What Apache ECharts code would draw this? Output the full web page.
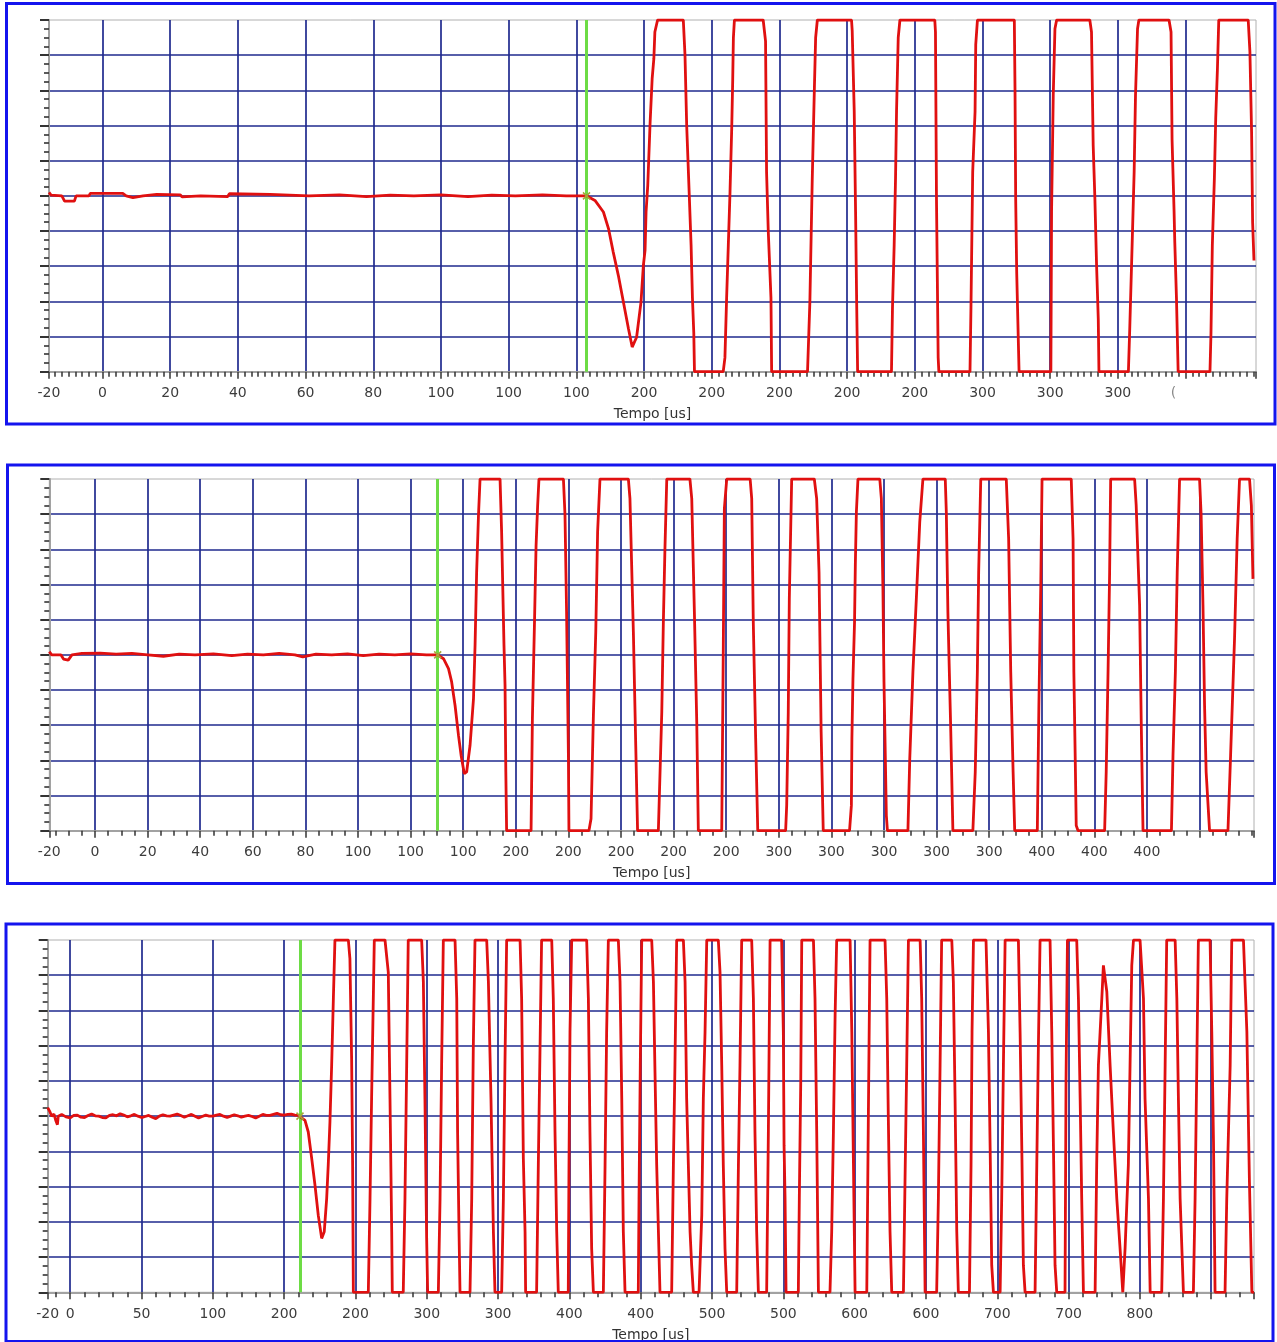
<!DOCTYPE html>
<html>
<head>
<meta charset="utf-8">
<title>Tempo [us]</title>
<script src="https://cdn.jsdelivr.net/npm/echarts@6/dist/echarts.min.js"></script>
<style>
  html, body { margin: 0; padding: 0; background: #ffffff; }
  #chart { width: 1277px; height: 1342px; }
</style>
</head>
<body>
<div id="chart"></div>
<script>
// ---- acquisition windows (us) ----
const range1 = [-15.8, 340.8];
const range2 = [-17.4, 440.7];
const range3 = [-15.8, 830.0];

// ---- trigger instants (us) ----
const trigger1 = 143.0;
const trigger2 = 130.3;
const trigger3 = 161.1;

// ---- major ticks / vertical grid (us) ----
const ticks1 = [0, 20, 40, 60, 80, 100, 120, 140, 160, 180, 200, 220, 240, 260, 280, 300, 320];
const ticks2 = [0, 20, 40, 60, 80, 100, 120, 140, 160, 180, 200, 220, 240, 260, 280, 300, 320, 340, 360, 380, 400, 420];
const ticks3 = [0, 50, 100, 150, 200, 250, 300, 350, 400, 450, 500, 550, 600, 650, 700, 750, 800];

// ---- tick label texts (first one sits at the start of the window) ----
const labels1 = ['-20', '0', '20', '40', '60', '80', '100', '100', '100', '200', '200', '200', '200', '200', '300', '300', '300', '('];
const labels2 = ['-20', '0', '20', '40', '60', '80', '100', '100', '100', '200', '200', '200', '200', '200', '300', '300', '300', '300', '300', '400', '400', '400'];
const labels3 = ['-20', '0', '50', '100', '200', '200', '300', '300', '400', '400', '500', '500', '600', '600', '700', '700', '800'];

// ---- minor tick spacing (us) ----
const minorStep1 = 2;
const minorStep2 = 5;
const minorStep3 = 10;

// ---- recorded signal, [time us, level] ----
const trace1 = [
  [-15.8, 0.1], [-15.2, 0.02], [-12, 0.0], [-11.2, -0.15], [-8.3, -0.15], [-7.8, 0.0], [-4, 0.0], [-3.6, 0.07],
  [6, 0.07], [7, 0.0], [9, -0.05], [12, 0.0], [16, 0.04], [23, 0.03], [23.5, -0.03], [29, 0.0], [37, -0.02],
  [37.5, 0.06], [49.5, 0.04], [50, -0.01], [61, 0.0], [70, 0.03], [78, -0.02], [85, 0.02], [92, 0.0], [100, 0.03],
  [108, -0.02], [115, 0.02], [122, 0.0], [130, 0.03], [137, 0.0],
  [143.0, 0.0], [145.5, -0.13], [148.0, -0.46], [149.5, -0.93], [150.9, -1.6], [152.4, -2.26], [153.9, -3.02],
  [155.4, -3.78], [156.5, -4.3], [157.8, -4.02], [159.1, -3.02], [159.8, -1.98], [160.3, -1.55], [160.6, -0.46],
  [161.1, 0.3], [161.8, 2.1], [162.4, 3.33], [162.9, 3.9], [163.2, 4.66], [164.0, 5],
  [171.6, 5], [172.1, 4.0], [172.6, 2.0], [173.4, -0.08], [173.9, -1.4], [174.3, -2.9], [174.7, -3.9], [174.9, -5],
  [183.4, -5], [183.9, -4.6], [184.4, -2.9], [184.9, -1.4], [185.4, 0.1], [185.9, 1.9], [186.2, 3.3], [186.4, 4.5], [186.7, 5],
  [195.2, 5], [195.9, 4.4], [196.2, 0.68], [196.7, -1.0], [197.5, -2.9], [197.7, -5],
  [208.3, -5], [209.0, -3.0], [209.7, 0.49], [210.3, 2.95], [210.7, 4.5], [211.2, 5],
  [221.3, 5], [221.5, 4.7], [222.1, 2.4], [222.5, -0.46], [222.8, -2.9], [223.1, -5],
  [233.1, -5], [233.4, -3.2], [233.9, -1.4], [234.3, 0.49], [234.6, 2.4], [235.1, 4.5], [235.6, 5],
  [245.9, 5], [246.1, 4.66], [246.4, -0.08], [246.9, -4.6], [247.1, -5],
  [256.3, -5], [256.6, -3.1], [257.1, 0.68], [257.8, 2.4], [258.0, 4.3], [258.5, 5],
  [269.4, 5], [269.6, 3.05], [269.8, -0.08], [270.1, -2.17], [270.8, -5],
  [280.2, -5], [280.4, -0.46], [280.9, 2.86], [281.4, 4.75], [281.9, 5],
  [291.7, 5], [292.2, 4.66], [292.7, 1.43], [293.2, -0.08], [293.7, -1.98], [294.2, -3.5], [294.4, -5],
  [303.1, -5], [303.5, -3.78], [304.2, -1.4], [304.8, 0.68], [305.2, 2.86], [305.8, 4.75], [306.2, 5],
  [315.1, 5], [315.7, 4.66], [316.0, 1.6], [316.6, -0.46], [316.8, -1.3], [317.3, -2.9], [317.8, -5],
  [327.2, -5], [327.5, -3.9], [327.9, -1.4], [328.5, 0.49], [328.9, 2.2], [329.4, 3.6], [329.8, 5],
  [338.5, 5], [339.0, 4.1], [339.5, 1.8], [339.8, -0.75], [340.2, -1.84]
];

const trace2 = [
  [-17.4, 0.09], [-16.5, 0.0], [-13, 0.0], [-12, -0.12], [-10.2, -0.15], [-8.8, 0.0], [-5, 0.04], [2, 0.05],
  [8, 0.02], [14, 0.04], [20, 0.0], [26, -0.04], [32, 0.02], [38, 0.0], [45, 0.03], [52, -0.02], [58, 0.02],
  [64, 0.0], [70, 0.04], [76, 0.0], [79, -0.06], [84, 0.02], [90, 0.0], [96, 0.03], [102, -0.02], [108, 0.02],
  [114, 0.0], [120, 0.03], [126, 0.0],
  [130.3, 0.0], [132.5, -0.11], [134.4, -0.39], [135.6, -0.77], [136.9, -1.44], [138.2, -2.29], [139.2, -2.86],
  [140.4, -3.38], [141.3, -3.33], [142.6, -2.57], [143.9, -1.25], [144.5, 0.27], [145.1, 2.35], [145.8, 3.97], [146.4, 5],
  [154.0, 5], [154.6, 3.49], [155.5, 0.27], [155.9, -0.87], [156.2, -3.33], [156.5, -5],
  [165.8, -5], [166.3, -1.82], [167.1, 0.93], [167.7, 3.11], [168.3, 4.25], [168.8, 5],
  [178.1, 5], [178.7, 3.97], [179.3, 1.22], [180.0, -2.86], [180.2, -5],
  [187.8, -5], [188.6, -4.66], [189.5, -1.72], [190.4, 0.65], [191.1, 3.49], [192.0, 5],
  [202.8, 5], [203.4, 4.44], [204.7, 0.65], [205.6, -2.57], [206.3, -5],
  [214.2, -5], [215.5, -1.63], [216.1, 0.93], [216.7, 3.0], [217.4, 5],
  [226.2, 5], [226.9, 4.44], [227.9, 1.22], [228.8, -1.91], [229.4, -5],
  [238.3, -5], [238.9, 0.27], [239.3, 4.16], [240.2, 5],
  [249.1, 5], [249.7, 4.44], [250.3, 0.93], [251.2, -2.38], [252.0, -5],
  [262.6, -5], [263.0, -4.28], [263.6, -1.63], [264.0, 1.6], [264.9, 5],
  [273.5, 5], [274.4, 4.44], [275.3, 2.35], [276.1, -2.19], [276.9, -5],
  [286.9, -5], [287.6, -4.28], [287.8, -2.38], [288.2, -0.68], [288.8, 0.93], [289.1, 2.54], [289.5, 4.06], [290.1, 5],
  [298.4, 5], [299.0, 4.44], [299.6, 1.88], [300.0, -0.77], [300.9, -4.57], [301.3, -5],
  [309.1, -5], [309.8, -2.95], [311.0, -0.49], [312.3, 1.6], [313.6, 3.78], [314.8, 5],
  [323.3, 5], [323.7, 4.06], [324.3, 1.22], [325.4, -2.19], [326.2, -5],
  [333.8, -5], [334.7, -3.33], [335.5, -0.49], [336.0, 2.35], [336.8, 5],
  [346.5, 5], [347.4, 3.3], [348.2, -0.49], [349.1, -3.33], [349.7, -5],
  [358.3, -5], [358.9, -1.44], [359.6, 1.88], [360.1, 5],
  [371.2, 5], [371.9, 3.3], [372.2, -0.49], [372.8, -3.33], [373.1, -4.85], [373.8, -5],
  [383.9, -5], [384.5, -3.33], [385.2, -0.49], [385.8, 2.35], [386.2, 5],
  [395.3, 5], [395.9, 4.25], [397.2, 1.41], [397.8, -1.82], [398.5, -5],
  [409.3, -5], [409.9, -2.86], [410.8, -0.49], [411.5, 2.35], [412.4, 5],
  [420.0, 5], [420.6, 3.97], [421.3, 1.41], [421.9, -1.44], [422.5, -3.33], [423.8, -5],
  [430.8, -5], [431.8, -2.86], [433.3, 0.46], [434.3, 3.3], [435.2, 5],
  [439.0, 5], [439.7, 4.25], [440.3, 2.16]
];

const trace3 = [
  [-15.8, 0.24], [-14.2, 0.12], [-13.0, 0.0], [-11.4, 0.06], [-10.0, -0.14], [-9.0, -0.24], [-8.4, 0.0], [-6, 0.05],
  [-3, -0.02], [0, -0.05], [2.5, 0.02], [5, 0.03], [7.5, -0.03], [10, -0.04], [12.5, 0.02], [15, 0.06], [17.5, 0.01],
  [20, 0.0], [22.5, -0.04], [25, -0.05], [27.5, 0.02], [30, 0.04], [32.5, 0.01], [35, 0.07], [37.5, 0.03], [40, -0.02],
  [42.5, 0.01], [45, 0.05], [47.5, 0.0], [50, -0.04], [52.5, -0.01], [55, 0.02], [57.5, -0.03], [60, -0.07],
  [62.5, 0.0], [65, 0.04], [67.5, 0.01], [70, 0.0], [72.5, 0.03], [75, 0.06], [77.5, 0.02], [80, -0.03], [82.5, 0.01],
  [85, 0.05], [87.5, 0.0], [90, -0.05], [92.5, -0.01], [95, 0.03], [97.5, 0.0], [100, 0.0], [102.5, 0.03], [105, 0.05],
  [107.5, 0.0], [110, -0.04], [112.5, 0.0], [115, 0.04], [117.5, 0.01], [120, -0.03], [122.5, 0.0], [125, 0.02],
  [127.5, -0.01], [130, -0.05], [132.5, 0.0], [135, 0.05], [137.5, 0.02], [140, 0.02], [142.5, 0.05], [145, 0.08],
  [147.5, 0.04], [150, 0.03], [152.5, 0.05], [155, 0.06], [157.5, 0.03], [160, 0.02],
  [161.1, 0.0], [164.6, -0.12], [166.9, -0.45], [169.3, -1.2], [171.6, -1.96], [173.9, -2.81], [176.3, -3.47],
  [178.1, -3.28], [179.8, -2.34], [180.9, -1.39], [182.1, -0.16], [183.3, 1.45], [184.5, 3.34], [185.6, 5],
  [195.0, 5], [196.1, 4.47], [197.3, 1.63], [198.0, -1.39], [198.5, -5],
  [209.0, -5], [210.2, -2.34], [211.3, 0.5], [212.5, 3.34], [213.2, 5],
  [220.7, 5], [223.0, 4.09], [224.2, 0.5], [225.4, -3.28], [225.8, -5],
  [233.5, -5], [234.7, -2.34], [235.9, 1.45], [237.0, 5],
  [246.4, 5], [247.6, 3.81], [248.7, 0.5], [249.9, -3.47], [250.6, -5],
  [258.1, -5], [259.3, -2.34], [260.4, 1.45], [261.6, 5],
  [269.8, 5], [271.0, 3.34], [271.6, -0.45], [272.6, -3.28], [273.3, -5],
  [280.3, -5], [281.5, -2.34], [282.6, 1.92], [283.8, 5],
  [292.0, 5], [293.2, 3.81], [295.0, 0.5], [296.7, -3.28], [297.8, -5],
  [302.5, -5], [303.7, -2.34], [304.8, 1.45], [306.0, 5],
  [315.4, 5], [316.5, 3.34], [317.7, -1.2], [318.9, -3.28], [319.3, -5],
  [327.0, -5], [328.2, -1.39], [329.4, 1.92], [330.5, 5],
  [337.6, 5], [338.7, 3.34], [339.9, -0.45], [341.1, -3.28], [342.2, -5],
  [349.2, -5], [349.7, -1.39], [350.4, 2.39], [351.6, 5],
  [362.1, 5], [363.3, 3.34], [364.4, -0.45], [365.6, -3.76], [366.8, -5],
  [373.8, -5], [375.0, -1.39], [376.1, 2.39], [377.3, 5],
  [384.3, 5], [385.5, 3.81], [386.7, 0.5], [387.8, -3.28], [389.0, -5],
  [398.3, -5], [398.8, -2.34], [399.7, 1.45], [400.7, 5],
  [407.7, 5], [408.9, 3.81], [410.0, 1.26], [411.2, -1.39], [413.5, -5],
  [421.7, -5], [422.9, -1.39], [424.0, 1.45], [425.2, 5],
  [429.9, 5], [431.1, 3.81], [432.2, 0.5], [434.6, -3.28], [435.7, -4.23], [436.9, -5],
  [440.9, -5], [442.8, -2.81], [443.9, 0.5], [445.1, 2.39], [446.3, 5],
  [454.4, 5], [455.6, 4.09], [456.8, 1.45], [457.9, -1.39], [459.1, -3.76], [460.3, -5],
  [467.3, -5], [468.5, -1.39], [469.6, 1.45], [470.8, 5],
  [477.8, 5], [479.0, 3.34], [480.1, -0.45], [481.3, -3.28], [482.5, -5],
  [488.3, -5], [489.5, -0.45], [490.7, 5],
  [498.8, 5], [500.0, 2.39], [500.5, -0.83], [501.2, -2.34], [501.9, -5],
  [510.5, -5], [511.2, -2.34], [512.2, 0.97], [512.9, 5],
  [521.1, 5], [522.2, 3.34], [523.4, -0.45], [524.6, -5],
  [532.7, -5], [533.9, -3.28], [535.1, -0.45], [536.3, 2.87], [537.4, 5],
  [546.8, 5], [548.0, 2.39], [549.1, -1.2], [550.3, -5],
  [558.5, -5], [559.6, -0.03], [560.8, 5],
  [571.3, 5], [572.5, 3.34], [573.6, -0.03], [574.8, -3.28], [576.0, -5],
  [584.2, -5], [585.3, -1.87], [586.5, 1.45], [587.7, 5],
  [595.9, 5], [597.0, 3.34], [598.2, -0.45], [599.4, -5],
  [607.5, -5], [608.7, -2.34], [609.9, 1.45], [611.0, 5],
  [618.1, 5], [619.2, 3.81], [620.4, 0.5], [621.6, -3.28], [622.7, -5],
  [630.5, -5], [631.6, -1.39], [632.3, 2.39], [633.3, 5],
  [642.1, 5], [643.8, 2.39], [645.0, -0.92], [646.1, -4.23], [647.3, -5],
  [652.0, -5], [653.1, -2.34], [654.3, 1.45], [655.5, 5],
  [664.8, 5], [666.0, 2.39], [667.2, -0.92], [668.3, -4.23], [669.5, -5],
  [676.5, -5], [677.7, -1.39], [678.8, 1.92], [680.0, 5],
  [687.0, 5], [688.2, 2.39], [689.4, -0.92], [690.5, -4.23], [691.7, -5],
  [697.5, -5], [698.2, 0.97], [699.2, 5],
  [705.7, 5], [706.9, 3.34], [708.1, 0.5], [709.2, -2.34], [710.4, -5],
  [718.6, -5], [719.7, -1.39], [720.9, 1.45], [722.1, 2.39], [723.3, 3.34], [724.4, 4.28], [725.1, 4.28],
  [726.8, 3.53], [729.1, 1.45], [731.4, -0.45], [733.8, -2.34], [736.1, -3.76], [738.0, -5],
  [739.6, -3.76], [741.9, -1.39], [743.1, 1.45], [744.3, 4.28], [745.5, 5],
  [750.1, 5], [752.5, 3.34], [753.6, 0.5], [756.0, -2.34], [757.2, -5],
  [765.3, -5], [766.5, -2.34], [767.7, 1.45], [768.8, 5],
  [774.7, 5], [775.9, 3.34], [777.0, 0.5], [778.2, -2.34], [780.5, -5],
  [787.5, -5], [788.7, -2.34], [789.9, 1.45], [791.0, 5],
  [799.2, 5], [800.4, 2.39], [801.6, -0.73], [802.7, -5],
  [809.7, -5], [810.9, -2.34], [813.3, 1.45], [814.4, 5],
  [822.6, 5], [825.0, 2.39], [826.8, -1.87], [828.5, -5],
  [830.0, -5]
];

// ---- styling ----
const FONT = 'DejaVu Sans';
const GRID_BLUE = '#1f2a8e';
const TRACE_RED = '#e01010';
const TRIGGER_GREEN = '#6ddc45';
const FRAME_BLUE = '#1414ee';
const AXIS_GREY = '#a2a2a2';
const TICK_DARK = '#333333';

// tick positions every `step` us across a window
function stepTicks(range, step) {
  const out = [];
  const first = Math.ceil(range[0] / step) * step;
  for (let v = first; v <= range[1] + 1e-9; v += step) out.push(Math.round(v * 1000) / 1000);
  return out;
}

// panel layout in pixels
const layouts = [
  { left: 49,   top: 20,  width: 1207,   height: 351.7 },
  { left: 49.3, top: 479, width: 1204.7, height: 351.7 },
  { left: 47.7, top: 940, width: 1206.3, height: 352.3 }
];
const frames = [
  { x: 6.5, y: 3.5, width: 1268.5, height: 420.5 },
  { x: 7.5, y: 465, width: 1267,   height: 418.5 },
  { x: 6,   y: 924, width: 1267,   height: 417.5 }
];

const panels = [
  { range: range1, ticks: ticks1, labels: labels1, minor: minorStep1, trace: trace1, trigger: trigger1 },
  { range: range2, ticks: ticks2, labels: labels2, minor: minorStep2, trace: trace2, trigger: trigger2 },
  { range: range3, ticks: ticks3, labels: labels3, minor: minorStep3, trace: trace3, trigger: trigger3 }
];

// small cross drawn where the trace meets the trigger cursor
const CROSS = 'path://M0,0L10,10M10,0L0,10';

const grids = [], xAxes = [], yAxes = [], seriesList = [];

panels.forEach((p, i) => {
  const L = layouts[i];
  grids.push({
    left: L.left, top: L.top, width: L.width, height: L.height,
    containLabel: false, outerBoundsMode: 'none',
    show: true, borderColor: '#b0b0b0', borderWidth: 1, backgroundColor: 'transparent'
  });

  const labelPos = [p.range[0]].concat(p.ticks.slice(0, p.labels.length - 1));
  const labelOf = (v) => {
    for (let k = 0; k < labelPos.length; k++) {
      if (Math.abs(labelPos[k] - v) < 1e-6) {
        const txt = p.labels[k];
        return txt === '(' ? '{cut|' + txt + '}' : txt;
      }
    }
    return '';
  };

  // main time axis: labels, major ticks and vertical grid
  xAxes.push({
    type: 'value', gridIndex: i, position: 'bottom', offset: 0,
    min: p.range[0], max: p.range[1],
    name: 'Tempo [us]', nameLocation: 'middle', nameGap: 36,
    nameTextStyle: { fontFamily: FONT, fontSize: 14, color: '#333333' },
    axisLine: { show: true, onZero: false, lineStyle: { color: AXIS_GREY, width: 2 } },
    axisTick: {
      show: true, length: 7, inside: false,
      customValues: [p.range[0]].concat(p.ticks, [p.range[1]]),
      lineStyle: { color: TICK_DARK, width: 1.5 }
    },
    axisLabel: {
      show: true, customValues: labelPos, formatter: labelOf,
      showMinLabel: true, showMaxLabel: true, hideOverlap: false,
      margin: 15, fontFamily: FONT, fontSize: 14, color: '#3c3c3c',
      rich: { cut: { fontFamily: FONT, fontSize: 14, color: '#8a8a8a', padding: [0, 24, 0, 0] } }
    },
    splitLine: { show: true, showMinLine: false, showMaxLine: false, lineStyle: { color: GRID_BLUE, width: 1.7 } },
    minorTick: { show: false }, minorSplitLine: { show: false }
  });

  // companion axis carrying the small ticks only
  xAxes.push({
    type: 'value', gridIndex: i, position: 'bottom', offset: 0,
    min: p.range[0], max: p.range[1],
    axisLine: { show: false, onZero: false },
    axisTick: { show: true, length: 5, customValues: stepTicks(p.range, p.minor), lineStyle: { color: TICK_DARK, width: 1.5 } },
    axisLabel: { show: false },
    splitLine: { show: false }
  });

  yAxes.push({
    type: 'value', gridIndex: i, min: -5, max: 5, interval: 1,
    axisLine: { show: true, onZero: false, lineStyle: { color: AXIS_GREY, width: 2 } },
    axisTick: { show: true, length: 9, lineStyle: { color: TICK_DARK, width: 2 } },
    minorTick: { show: true, splitNumber: 4, length: 5, lineStyle: { color: TICK_DARK, width: 1.6 } },
    axisLabel: { show: false },
    splitLine: { show: true, showMinLine: false, showMaxLine: false, lineStyle: { color: GRID_BLUE, width: 1.7 } }
  });

  seriesList.push({
    type: 'line', xAxisIndex: i * 2, yAxisIndex: i,
    data: p.trace, showSymbol: false, symbol: 'none', smooth: false,
    lineStyle: { color: TRACE_RED, width: 2.8 }, itemStyle: { color: TRACE_RED },
    animation: false, clip: true, z: 3,
    markLine: {
      silent: true, symbol: 'none', animation: false, z: 2,
      label: { show: false },
      lineStyle: { color: TRIGGER_GREEN, width: 3, type: 'solid' },
      data: [{ xAxis: p.trigger }]
    },
    markPoint: {
      silent: true, animation: false,
      symbol: CROSS, symbolSize: 7,
      label: { show: false },
      itemStyle: { color: 'none', borderColor: '#a3a83a', borderWidth: 1.5 },
      data: [{ coord: [p.trigger, 0] }]
    }
  });
});

const chart = echarts.init(document.getElementById('chart'), null, { renderer: 'canvas' });
chart.setOption({
  backgroundColor: '#ffffff',
  animation: false,
  textStyle: { fontFamily: FONT },
  grid: grids,
  xAxis: xAxes,
  yAxis: yAxes,
  series: seriesList,
  graphic: frames.map(f => ({
    type: 'rect', silent: true, z: 10,
    shape: { x: f.x, y: f.y, width: f.width, height: f.height },
    style: { fill: 'none', stroke: FRAME_BLUE, lineWidth: 3 }
  }))
});
</script>
</body>
</html>
